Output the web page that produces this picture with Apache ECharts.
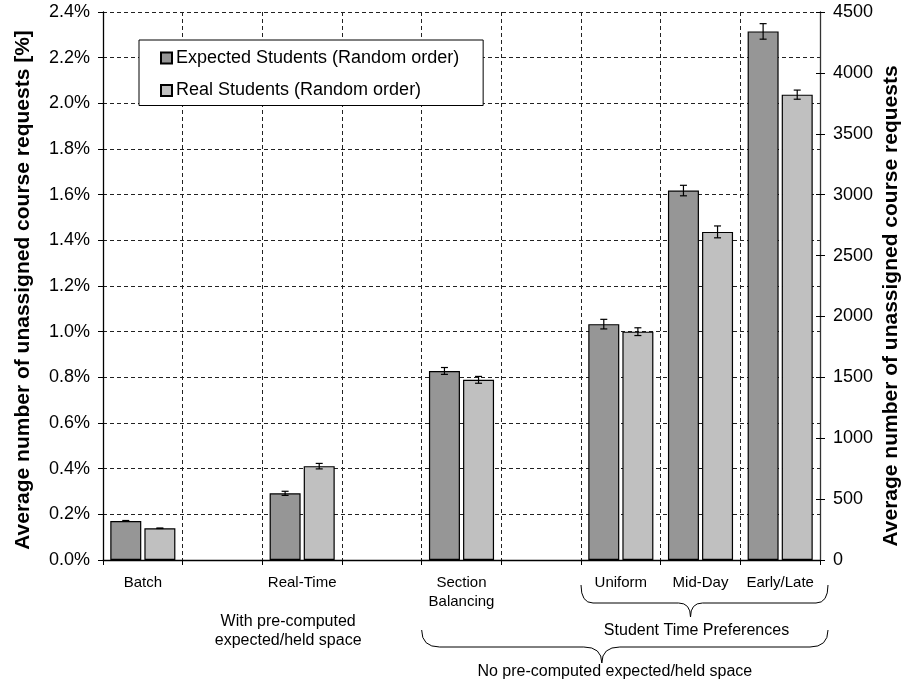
<!DOCTYPE html>
<html>
<head>
<meta charset="utf-8">
<script src="https://cdn.jsdelivr.net/npm/echarts@6/dist/echarts.min.js"></script>
<style>
  html, body { margin: 0; padding: 0; background: #ffffff; }
  #chart { width: 903px; height: 685px; }
</style>
</head>
<body>
<div id="chart"></div>
<script>
// Scheduling strategies (empty slots separate the groups)
const categories = ['Batch', '', 'Real-Time', '', 'Section\nBalancing', '', 'Uniform', 'Mid-Day', 'Early/Late'];

// Average share of unassigned course requests [%]
const expectedStudents = [0.171, null, 0.292, null, 0.828, null, 1.033, 1.618, 2.315];
const realStudents     = [0.139, null, 0.411, null, 0.789, null, 1.000, 1.437, 2.038];

// Half-width of the error bars [%]
const expectedErr = [0.002, null, 0.009, null, 0.015, null, 0.021, 0.023, 0.034];
const realErr     = [0.001, null, 0.012, null, 0.015, null, 0.017, 0.026, 0.020];

const seriesNames = ['Expected Students (Random order)', 'Real Students (Random order)'];

// Axis ranges: percentage (left) and absolute count (right)
const pctMax = 2.4, pctStep = 0.2;
const countMax = 4500, countStep = 500;

const leftTitle = 'Average number of unassigned course requests [%]';
const rightTitle = 'Average number of unassigned course requests';

const FONT = 'Liberation Sans, Arial, Helvetica, sans-serif';
const BAR_W = 31;
const BAR_GAP = 0.1;                       // fraction of bar width
const OFFSET = BAR_W * (1 + BAR_GAP) / 2;  // bar centre offset from category centre

const chart = echarts.init(document.getElementById('chart'), null, { renderer: 'canvas' });

function errorData(values, errs) {
  const out = [];
  values.forEach((v, i) => { if (v != null) out.push([i, v, errs[i]]); });
  return out;
}

function errorRenderer(shift) {
  return function (params, api) {
    const i = api.value(0), v = api.value(1), e = api.value(2);
    const hi = api.coord([i, v + e]);
    const lo = api.coord([i, v - e]);
    const x = hi[0] + shift;
    const cap = 3.5;
    const style = { stroke: '#000', lineWidth: 1.2, fill: null };
    return {
      type: 'group',
      children: [
        { type: 'line', shape: { x1: x, y1: hi[1], x2: x, y2: lo[1] }, style },
        { type: 'line', shape: { x1: x - cap, y1: hi[1], x2: x + cap, y2: hi[1] }, style },
        { type: 'line', shape: { x1: x - cap, y1: lo[1], x2: x + cap, y2: lo[1] }, style }
      ]
    };
  };
}

const dashed = { color: '#222', width: 1, type: [4, 3] };

const option = {
  animation: false,
  backgroundColor: '#ffffff',
  textStyle: { fontFamily: FONT, color: '#000' },
  grid: { left: 103, right: 83, top: 12, bottom: 125, containLabel: false, outerBoundsMode: 'none' },
  legend: {
    orient: 'vertical',
    left: 139, top: 40,
    padding: [8, 24, 5, 21],
    itemGap: 12.5,
    itemWidth: 11, itemHeight: 11,
    backgroundColor: '#ffffff',
    borderColor: '#000', borderWidth: 1,
    icon: 'rect',
    textStyle: { fontFamily: FONT, fontSize: 18, color: '#000', lineHeight: 20, padding: [0, 0, 0, -1] },
    data: seriesNames
  },
  xAxis: {
    type: 'category',
    data: categories,
    boundaryGap: true,
    axisLine: { lineStyle: { color: '#000', width: 1.3 } },
    axisTick: { show: true, interval: 0, length: 5, lineStyle: { color: '#000' } },
    axisLabel: { interval: 0, fontSize: 15, fontFamily: FONT, color: '#000', margin: 13, lineHeight: 19 },
    splitLine: { show: true, interval: 0, lineStyle: dashed }
  },
  yAxis: [
    {
      type: 'value', position: 'left',
      min: 0, max: pctMax, interval: pctStep,
      axisLine: { show: true, lineStyle: { color: '#000', width: 1.3 } },
      axisTick: { show: true, length: 5, lineStyle: { color: '#000' } },
      axisLabel: { fontSize: 18, fontFamily: FONT, color: '#000', margin: 13,
        formatter: v => v.toFixed(1) + '%' },
      splitLine: { show: true, lineStyle: dashed }
    },
    {
      type: 'value', position: 'right',
      min: 0, max: countMax, interval: countStep,
      axisLine: { show: true, lineStyle: { color: '#333', width: 1.3 } },
      axisTick: { show: true, length: 5, lineStyle: { color: '#000' } },
      axisLabel: { fontSize: 18, fontFamily: FONT, color: '#000', margin: 13,
        formatter: v => String(v) },
      splitLine: { show: false }
    },
    {
      // inner half of the right-hand cross ticks
      type: 'value', position: 'right',
      min: 0, max: countMax, interval: countStep,
      axisLine: { show: false },
      axisTick: { show: true, inside: true, length: 4, lineStyle: { color: '#000' } },
      axisLabel: { show: false },
      splitLine: { show: false }
    }
  ],
  series: [
    {
      name: seriesNames[0], type: 'bar', yAxisIndex: 0,
      data: expectedStudents,
      barWidth: BAR_W, barGap: (BAR_GAP * 100) + '%',
      itemStyle: { color: '#969696', borderColor: '#000', borderWidth: 1.2 }
    },
    {
      name: seriesNames[1], type: 'bar', yAxisIndex: 0,
      data: realStudents,
      barWidth: BAR_W, barGap: (BAR_GAP * 100) + '%',
      itemStyle: { color: '#c0c0c0', borderColor: '#000', borderWidth: 1.2 }
    },
    {
      type: 'custom', yAxisIndex: 0, z: 5,
      data: errorData(expectedStudents, expectedErr),
      encode: { x: 0, y: 1 },
      renderItem: errorRenderer(-OFFSET)
    },
    {
      type: 'custom', yAxisIndex: 0, z: 5,
      data: errorData(realStudents, realErr),
      encode: { x: 0, y: 1 },
      renderItem: errorRenderer(OFFSET)
    }
  ]
};

chart.setOption(option);

// Group braces, captions and axis titles placed from the axis geometry
function catX(i) { return chart.convertToPixel({ xAxisIndex: 0 }, i); }
const half = (catX(1) - catX(0)) / 2;
const axisY = chart.convertToPixel({ yAxisIndex: 0 }, 0);
const topY = chart.convertToPixel({ yAxisIndex: 0 }, pctMax);
const leftX = catX(0) - half;
const rightX = catX(8) + half;

const braceStyle = { stroke: '#000', lineWidth: 1, fill: null };

function brace(x0, x1, tipX, yTop, yMid, yTip, r) {
  return [
    { type: 'bezierCurve', shape: { x1: x0, y1: yTop, cpx1: x0, cpy1: yMid, x2: x0 + r, y2: yMid }, style: braceStyle },
    { type: 'line', shape: { x1: x0 + r, y1: yMid, x2: tipX - r, y2: yMid }, style: braceStyle },
    { type: 'bezierCurve', shape: { x1: tipX - r, y1: yMid, cpx1: tipX, cpy1: yMid, x2: tipX, y2: yTip }, style: braceStyle },
    { type: 'bezierCurve', shape: { x1: tipX, y1: yTip, cpx1: tipX, cpy1: yMid, x2: tipX + r, y2: yMid }, style: braceStyle },
    { type: 'line', shape: { x1: tipX + r, y1: yMid, x2: x1 - r, y2: yMid }, style: braceStyle },
    { type: 'bezierCurve', shape: { x1: x1 - r, y1: yMid, cpx1: x1, cpy1: yMid, x2: x1, y2: yTop }, style: braceStyle }
  ];
}

const rightEnd = rightX + 8;
const smallL = catX(6) - half;
const smallTip = catX(7) - 10;
const bigL = catX(4) - half;
const bigTip = catX(6) - 19;

const textStyle16 = { font: '16px ' + FONT, fill: '#000', align: 'center', verticalAlign: 'middle' };
const titleStyle = { font: 'bold 21px ' + FONT, fill: '#000', align: 'center', verticalAlign: 'middle' };

chart.setOption({
  graphic: [].concat(
    brace(smallL, rightEnd, smallTip, axisY + 25, axisY + 43, axisY + 57, 12),
    brace(bigL, rightEnd, bigTip, axisY + 70, axisY + 87, axisY + 103, 18),
    [
      { type: 'text', x: catX(7) - 4, y: axisY + 71, style: Object.assign({ text: 'Student Time Preferences' }, textStyle16) },
      { type: 'text', x: bigTip + 13, y: axisY + 112, style: Object.assign({ text: 'No pre-computed expected/held space' }, textStyle16) },
      { type: 'text', x: catX(2) - 14, y: axisY + 71, style: Object.assign({ text: 'With pre-computed\nexpected/held space', lineHeight: 19 }, textStyle16) },
      { type: 'text', x: leftX - 80, y: (topY + axisY) / 2 + 4, rotation: Math.PI / 2, style: Object.assign({ text: leftTitle }, titleStyle) },
      { type: 'text', x: rightX + 71, y: (topY + axisY) / 2 + 20, rotation: Math.PI / 2, style: Object.assign({ text: rightTitle }, titleStyle) }
    ]
  )
});
</script>
</body>
</html>
